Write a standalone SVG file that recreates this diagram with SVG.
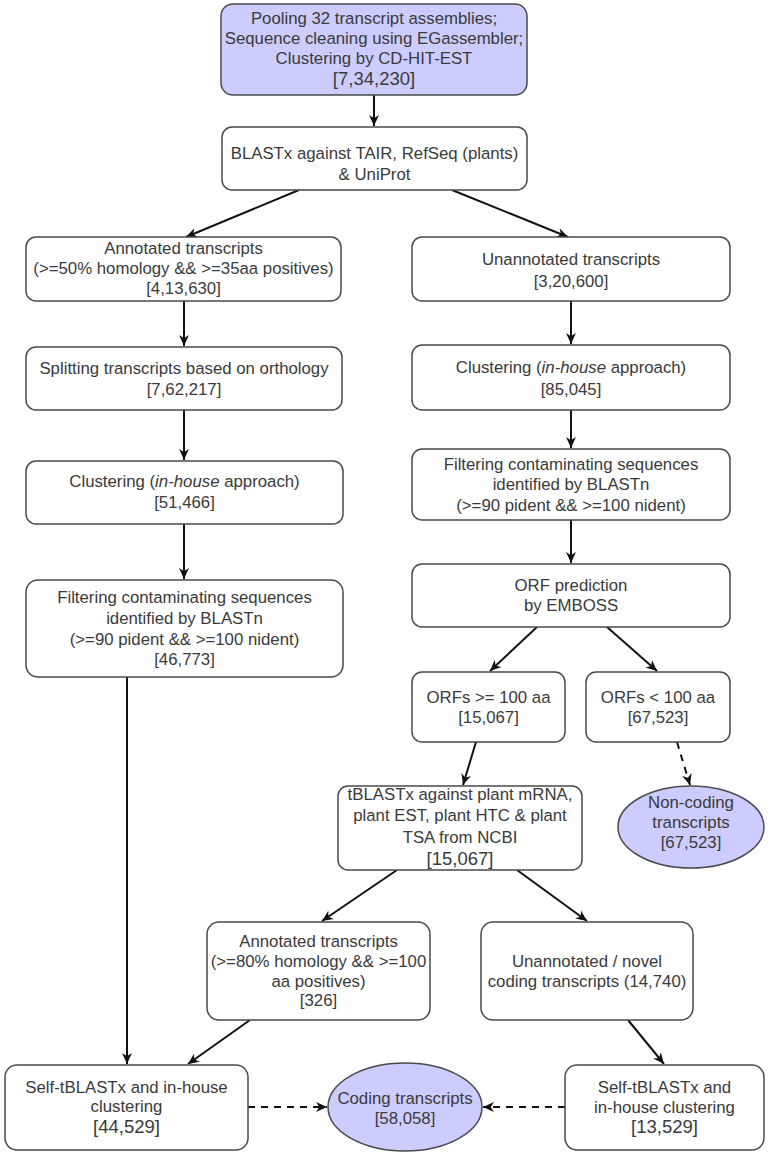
<svg xmlns="http://www.w3.org/2000/svg" width="771" height="1157" viewBox="0 0 771 1157">
<style>
.box{fill:#ffffff;stroke:#4a4a4a;stroke-width:1.5}
.hl{fill:#ccccff;stroke:#4a4a4a;stroke-width:1.5}
text{font-family:"Liberation Sans",Arial,sans-serif;font-size:16.8px;fill:#3a3a3a;text-anchor:middle}
.big{font-size:18.5px}
.c{fill:none;stroke:#111;stroke-width:2}
.d{fill:none;stroke:#111;stroke-width:2;stroke-dasharray:7 6}
</style>
<defs>
<marker id="arr" viewBox="0 0 10 10" refX="10" refY="5" markerWidth="11" markerHeight="11" markerUnits="userSpaceOnUse" orient="auto">
<path d="M0,0.5 L10,5 L0,9.5 L3,5 z" fill="#111"/>
</marker>
</defs>
<g id="connectors">
<path class="c" d="M374,95 L374,126" marker-end="url(#arr)"/>
<path class="c" d="M299,190 L186,237" marker-end="url(#arr)"/>
<path class="c" d="M452,190 L568,237" marker-end="url(#arr)"/>
<path class="c" d="M184,301 L184,346" marker-end="url(#arr)"/>
<path class="c" d="M184,410 L184,460" marker-end="url(#arr)"/>
<path class="c" d="M184,524 L184,579" marker-end="url(#arr)"/>
<path class="c" d="M571,301 L571,344" marker-end="url(#arr)"/>
<path class="c" d="M571,410 L571,448" marker-end="url(#arr)"/>
<path class="c" d="M571,520 L571,563" marker-end="url(#arr)"/>
<path class="c" d="M537,627 L490,671" marker-end="url(#arr)"/>
<path class="c" d="M607,627 L657,671" marker-end="url(#arr)"/>
<path class="c" d="M476,742 L463,785" marker-end="url(#arr)"/>
<path class="d" d="M677,742 L690,785" marker-end="url(#arr)"/>
<path class="c" d="M397,870 L322,921" marker-end="url(#arr)"/>
<path class="c" d="M517,870 L587,921" marker-end="url(#arr)"/>
<path class="c" d="M127,677 L127,1064" marker-end="url(#arr)"/>
<path class="c" d="M250,1020 L188,1064" marker-end="url(#arr)"/>
<path class="c" d="M628,1020 L664,1064" marker-end="url(#arr)"/>
<path class="d" d="M248,1107 L327,1107" marker-end="url(#arr)"/>
<path class="d" d="M565,1107 L483,1107" marker-end="url(#arr)"/>
</g>
<g id="pool">
<rect class="hl" x="221" y="4" width="306" height="91" rx="12"/>
<text x="374" y="24">Pooling 32 transcript assemblies;</text>
<text x="374" y="44">Sequence cleaning using EGassembler;</text>
<text x="374" y="64">Clustering by CD-HIT-EST</text>
<text class="big" x="374" y="85">[7,34,230]</text>
</g>
<g id="blastx">
<rect class="box" x="222" y="127" width="305" height="63" rx="10"/>
<text x="374.5" y="159">BLASTx against TAIR, RefSeq (plants)</text>
<text x="374.5" y="180">&amp; UniProt</text>
</g>
<g id="annotated">
<rect class="box" x="26" y="237" width="315" height="64" rx="10"/>
<text x="183.5" y="254">Annotated transcripts</text>
<text x="183.5" y="274">(&gt;=50% homology &amp;&amp; &gt;=35aa positives)</text>
<text x="183.5" y="294">[4,13,630]</text>
</g>
<g id="unannotated">
<rect class="box" x="412" y="237" width="318" height="64" rx="10"/>
<text x="571" y="265">Unannotated transcripts</text>
<text x="571" y="287">[3,20,600]</text>
</g>
<g id="splitting">
<rect class="box" x="26" y="347" width="316" height="63" rx="10"/>
<text x="184" y="374">Splitting transcripts based on orthology</text>
<text x="184" y="395">[7,62,217]</text>
</g>
<g id="clusteringR">
<rect class="box" x="412" y="345" width="318" height="65" rx="10"/>
<text x="571" y="373">Clustering (<tspan font-style="italic">in-house</tspan> approach)</text>
<text x="571" y="395">[85,045]</text>
</g>
<g id="clusteringL">
<rect class="box" x="26" y="461" width="317" height="63" rx="10"/>
<text x="184.5" y="487">Clustering (<tspan font-style="italic">in-house</tspan> approach)</text>
<text x="184.5" y="508">[51,466]</text>
</g>
<g id="filteringR">
<rect class="box" x="412" y="449" width="318" height="71" rx="10"/>
<text x="571" y="470">Filtering contaminating sequences</text>
<text x="571" y="490">identified by BLASTn</text>
<text x="571" y="511">(&gt;=90 pident &amp;&amp; &gt;=100 nident)</text>
</g>
<g id="filteringL">
<rect class="box" x="26" y="580" width="317" height="97" rx="12"/>
<text x="184.5" y="603">Filtering contaminating sequences</text>
<text x="184.5" y="624">identified by BLASTn</text>
<text x="184.5" y="645">(&gt;=90 pident &amp;&amp; &gt;=100 nident)</text>
<text x="184.5" y="665">[46,773]</text>
</g>
<g id="orf">
<rect class="box" x="412" y="564" width="318" height="63" rx="10"/>
<text x="571" y="591">ORF prediction</text>
<text x="571" y="611">by EMBOSS</text>
</g>
<g id="orfLong">
<rect class="box" x="412" y="672" width="153" height="70" rx="10"/>
<text x="488.5" y="703">ORFs &gt;= 100 aa</text>
<text x="488.5" y="723">[15,067]</text>
</g>
<g id="orfShort">
<rect class="box" x="586" y="672" width="144" height="70" rx="10"/>
<text x="658" y="703">ORFs &lt; 100 aa</text>
<text x="658" y="723">[67,523]</text>
</g>
<g id="noncoding">
<ellipse class="hl" cx="691" cy="827" rx="73" ry="41"/>
<text x="691" y="808">Non-coding</text>
<text x="691" y="828">transcripts</text>
<text x="691" y="848">[67,523]</text>
</g>
<g id="tblastx">
<rect class="box" x="338" y="786" width="244" height="84" rx="10"/>
<text x="460" y="800">tBLASTx against plant mRNA,</text>
<text x="460" y="821">plant EST, plant HTC &amp; plant</text>
<text x="460" y="843">TSA from NCBI</text>
<text class="big" x="460" y="865">[15,067]</text>
</g>
<g id="annotated326">
<rect class="box" x="207" y="922" width="223" height="98" rx="12"/>
<text x="318.5" y="947">Annotated transcripts</text>
<text x="318.5" y="967">(&gt;=80% homology &amp;&amp; &gt;=100</text>
<text x="318.5" y="987">aa positives)</text>
<text x="318.5" y="1006">[326]</text>
</g>
<g id="novel">
<rect class="box" x="481" y="922" width="212" height="98" rx="12"/>
<text x="587" y="967">Unannotated / novel</text>
<text x="587" y="987">coding transcripts (14,740)</text>
</g>
<g id="selfL">
<rect class="box" x="5" y="1065" width="243" height="85" rx="12"/>
<text x="126.5" y="1093">Self-tBLASTx and in-house</text>
<text x="126.5" y="1112">clustering</text>
<text class="big" x="126.5" y="1133">[44,529]</text>
</g>
<g id="coding">
<ellipse class="hl" cx="405" cy="1107" rx="77" ry="44"/>
<text x="405" y="1104">Coding transcripts</text>
<text x="405" y="1124">[58,058]</text>
</g>
<g id="selfR">
<rect class="box" x="565" y="1065" width="199" height="85" rx="12"/>
<text x="664.5" y="1093">Self-tBLASTx and</text>
<text x="664.5" y="1113">in-house clustering</text>
<text class="big" x="664.5" y="1133">[13,529]</text>
</g>
</svg>
